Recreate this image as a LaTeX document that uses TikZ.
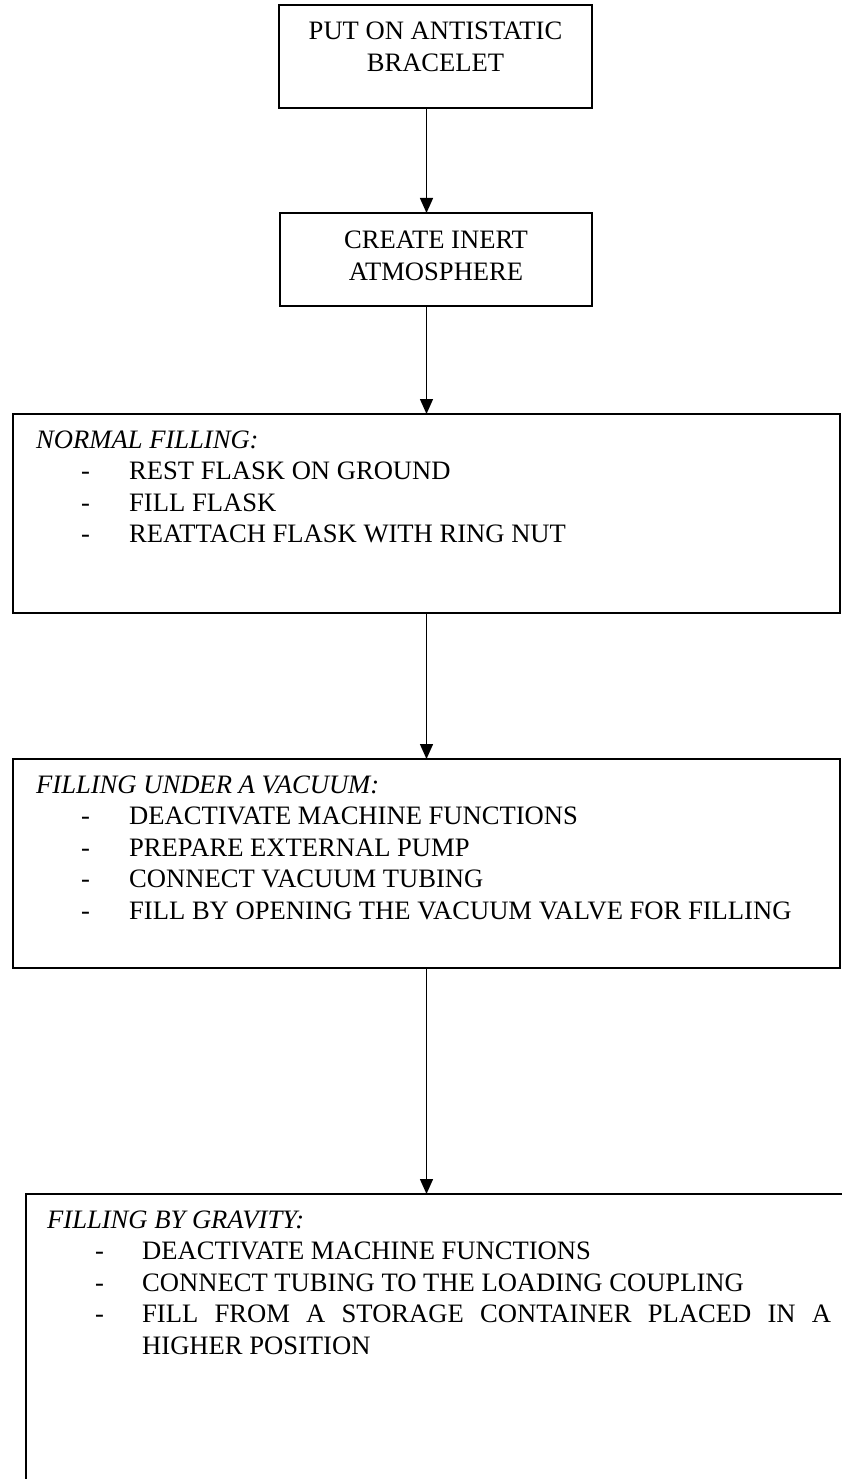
\documentclass[tikz,border=0pt]{standalone}
\usepackage{fontspec}
\setmainfont{Liberation Serif}
\usetikzlibrary{arrows.meta}
\newcommand{\flowfont}{\fontsize{26.6}{31.5}\selectfont}
\begin{document}
\begin{tikzpicture}[x=1pt,y=-1pt,
  box/.style={draw, line width=1.9pt, anchor=north west, inner sep=0pt, outer sep=0pt},
  ctxt/.style={anchor=base, inner sep=0pt, font=\flowfont},
  ltxt/.style={anchor=base west, inner sep=0pt, font=\flowfont},
  head/.style={ltxt, font=\flowfont\itshape},
  arr/.style={-{Triangle[length=15pt,width=13pt]}, line width=1.4pt}]
\useasboundingbox (0,0) rectangle (842,1479);
\clip (0,0) rectangle (842,1479);

% boxes
\node[box, minimum width=313, minimum height=103] (b1) at (279,5) {};
\node[box, minimum width=312, minimum height=93] (b2) at (280,213) {};
\node[box, minimum width=827, minimum height=199] (b3) at (13,414) {};
\node[box, minimum width=827, minimum height=209] (b4) at (13,759) {};
\node[box, minimum width=900, minimum height=400] (b5) at (26,1194) {};

% step 1
\node[ctxt] (t1a) at (435.5,40) {PUT ON ANTISTATIC};
\node[ctxt] (t1b) at (435.5,72) {BRACELET};

% step 2
\node[ctxt] (t2a) at (436,248) {CREATE INERT};
\node[ctxt] (t2b) at (436,280) {ATMOSPHERE};

% normal filling
\node[head] (h3) at (36,448) {NORMAL FILLING:};
\node[ltxt] (d31) at (81,479.5) {-};
\node[ltxt] (d32) at (81,511) {-};
\node[ltxt] (d33) at (81,542.5) {-};
\node[ltxt] (i31) at (129,479.5) {REST FLASK ON GROUND};
\node[ltxt] (i32) at (129,511) {FILL FLASK};
\node[ltxt] (i33) at (129,542.5) {REATTACH FLASK WITH RING NUT};

% filling under a vacuum
\node[head] (h4) at (36,793) {FILLING UNDER A VACUUM:};
\node[ltxt] (d41) at (81,824.5) {-};
\node[ltxt] (d42) at (81,856) {-};
\node[ltxt] (d43) at (81,887.5) {-};
\node[ltxt] (d44) at (81,919) {-};
\node[ltxt] (i41) at (129,824.5) {DEACTIVATE MACHINE FUNCTIONS};
\node[ltxt] (i42) at (129,856) {PREPARE EXTERNAL PUMP};
\node[ltxt] (i43) at (129,887.5) {CONNECT VACUUM TUBING};
\node[ltxt] (i44) at (129,919) {FILL BY OPENING THE VACUUM VALVE FOR FILLING};

% filling by gravity
\node[head] (h5) at (47,1228) {FILLING BY GRAVITY:};
\node[ltxt] (d51) at (95,1259.5) {-};
\node[ltxt] (d52) at (95,1291) {-};
\node[ltxt] (d53) at (95,1322.5) {-};
\node[ltxt] (i51) at (142,1259.5) {DEACTIVATE MACHINE FUNCTIONS};
\node[ltxt] (i52) at (142,1291) {CONNECT TUBING TO THE LOADING COUPLING};
\node[ltxt] (i53) at (142,1322.5) {\makebox[689pt][s]{FILL FROM A STORAGE CONTAINER PLACED IN A}};
\node[ltxt] (i54) at (142,1354) {HIGHER POSITION};

% connectors
\draw[arr] (b1.south -| b3.north) -- (b2.north -| b3.north);
\draw[arr] (b2.south -| b3.north) -- (b3.north);
\draw[arr] (b3.south) -- (b4.north);
\draw[arr] (b4.south) -- (b5.north -| b4.south);
\end{tikzpicture}
\end{document}
